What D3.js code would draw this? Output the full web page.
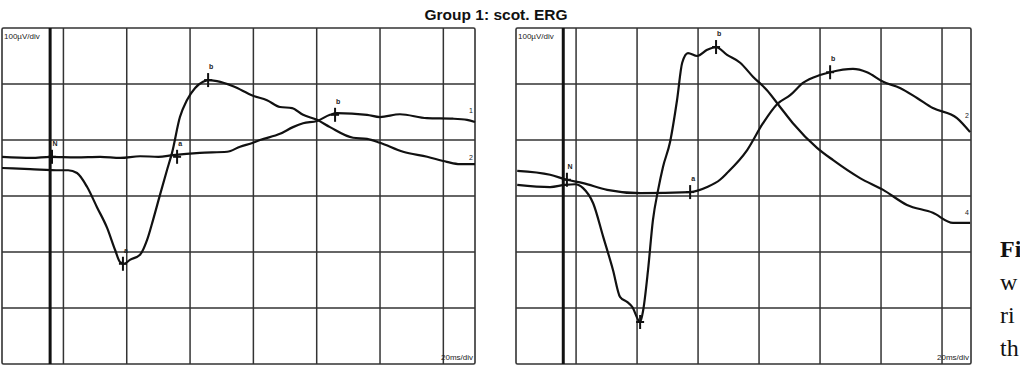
<!DOCTYPE html>
<html><head><meta charset="utf-8">
<script src="https://cdn.jsdelivr.net/npm/d3@7"></script>
<style>html,body{margin:0;padding:0;background:#fff;overflow:hidden}</style>
</head><body>
<svg id="c" width="1020" height="375"></svg>
<script>
// ---- data (time in ms, amplitude in µV) ----
const title = "Group 1: scot. ERG";
const yUnitLabel = "100µV/div";
const xUnitLabel = "20ms/div";
const gridTimes = [0, 20, 40, 60, 80, 100, 120];
const gridVolts = [-200, -100, 0, 100, 200];
const stimulusTime = -4.2;

// left panel, trace 2 (large a/b-wave)
const leftT2 = [-19.4,-10.5,-1.1,1.5,4.3,7.5,10.6,13.8,16.3,17.9,19.2,21.0,24.2,26.4,28.3,30.5,32.7,34.3,36.8,39.0,41.6,44.1,45.7,48.5,53.6,59.9,64.3,68.4,72.2,75.7,80.1,84.2,91.5,95.9,100.0,107.3,114.9,121.1,125.2,130.0];
const leftV2 = [50,48,46,46,41,16,-20,-57,-96,-118,-121,-114,-105,-79,-43,2,46,77,141,171,193,204,207,205,196,179,171,159,157,145,136,123,104,102,95,79,70,61,57,57];
// left panel, trace 1 (slow)
const leftT1 = [-19.4,-10,-4.2,4,11.6,18,24.2,30,34.6,43.1,51.7,55.8,59.9,62.1,68.4,72.5,75.7,80.1,84.2,86.4,95.9,100.0,106.3,114.8,123.0,127.5,130.0];
const leftV1 = [70,68,70,69,70,68,71,70,73,77,79,88,95,100,111,123,130,134,145,148,145,141,146,139,138,136,132];

// right panel, trace 4 (large a/b-wave)
const rightT4 = [-19.3,-8.5,-3.6,-0.3,2.3,5.6,8.9,12.1,14.4,16.7,18.4,21.0,22.0,23.6,25.2,26.9,28.5,30.8,33.1,34.8,36.7,39.7,43.0,45.9,49.5,53.8,58.0,62.6,66.9,71.1,79.0,84.3,93.1,100.7,108.5,117.0,123.6,129.2];
const rightV4 = [20,16,20,21,14,-13,-73,-132,-180,-189,-198,-225,-204,-132,-43,11,52,96,171,238,255,250,261,266,252,238,213,189,159,130,86,64,32,11,-16,-30,-48,-48];
// right panel, trace 2 (slow)
const rightT2 = [-19.3,-8.5,-3.0,2.3,10.2,21.0,37.4,43.0,47.2,49.5,56.1,61.3,65.9,70.2,74.4,80.0,83.3,90.8,95.4,100.7,106.2,111.8,117.0,124.9,129.2];
const rightV2 = [45,38,29,23,11,5,7,16,29,41,82,130,164,180,202,216,221,227,221,204,193,175,157,139,114];

// marker points [time, volt, label]
const leftMarkT = [-3.6, 35.9, 85.8, 18.8, 45.7];
const leftMarkV = [70, 70, 145, -121, 207];
const leftMarkL = ["N", "a", "b", "a", "b"];
const rightMarkT = [-3.0, 37.4, 83.3, 21.0, 45.9];
const rightMarkV = [29, 7, 221, -225, 266];
const rightMarkL = ["N", "a", "b", "", "b"];

const leftEndLabels = ["1", "2"];
const leftEndV = [148, 65];
const rightEndLabels = ["2", "4"];
const rightEndV = [140, -34];

const caption = ["Fi", "w", "ri", "th"];

// ---- drawing ----
const svg = d3.select("#c");
svg.append("text").attr("x", 496).attr("y", 20).attr("text-anchor", "middle")
  .attr("font-family", "Liberation Sans, Arial, sans-serif").attr("font-weight", "bold")
  .attr("font-size", 15.5).attr("fill", "#111").text(title);

const yScale = d3.scaleLinear().domain([-300, 300]).range([364, 28]);

function panel(xRange, tDomain, traces, markT, markV, markL, endLabels, endV) {
  const x = d3.scaleLinear().domain(tDomain).range(xRange);
  const y = yScale;
  const g = svg.append("g");
  g.append("rect").attr("x", xRange[0]).attr("y", 28)
    .attr("width", xRange[1] - xRange[0]).attr("height", 336)
    .attr("fill", "#fff").attr("stroke", "#333").attr("stroke-width", 1.6).attr("rx", 1.5);
  g.selectAll("line.v").data(gridTimes).join("line")
    .attr("x1", d => x(d)).attr("x2", d => x(d)).attr("y1", 28).attr("y2", 364)
    .attr("stroke", "#333").attr("stroke-width", 1.5);
  g.selectAll("line.h").data(gridVolts).join("line")
    .attr("y1", d => y(d)).attr("y2", d => y(d)).attr("x1", xRange[0]).attr("x2", xRange[1])
    .attr("stroke", "#333").attr("stroke-width", 1.5);
  g.append("line").attr("x1", x(stimulusTime)).attr("x2", x(stimulusTime))
    .attr("y1", 28).attr("y2", 364).attr("stroke", "#111").attr("stroke-width", 3);
  g.append("text").attr("x", xRange[0] + 2).attr("y", 39)
    .attr("font-family", "Liberation Sans, Arial, sans-serif").attr("font-size", 8)
    .attr("fill", "#222").text(yUnitLabel);
  g.append("text").attr("x", xRange[1] - 2).attr("y", 360).attr("text-anchor", "end")
    .attr("font-family", "Liberation Sans, Arial, sans-serif").attr("font-size", 8)
    .attr("fill", "#222").text(xUnitLabel);
  const line = d3.line().x(d => x(d[0])).y(d => y(d[1])).curve(d3.curveMonotoneX);
  traces.forEach(tr => {
    const pts = tr[0].map((t, i) => [t, tr[1][i]]);
    g.append("path").attr("d", line(pts)).attr("fill", "none")
      .attr("stroke", "#111").attr("stroke-width", 2.2).attr("stroke-linejoin", "round");
  });
  markT.forEach((t, i) => {
    const px = x(t), py = y(markV[i]);
    g.append("line").attr("x1", px).attr("x2", px).attr("y1", py - 7).attr("y2", py + 7)
      .attr("stroke", "#111").attr("stroke-width", 2);
    g.append("line").attr("x1", px - 4).attr("x2", px + 4).attr("y1", py).attr("y2", py)
      .attr("stroke", "#111").attr("stroke-width", 2);
    g.append("text").attr("x", px + 3).attr("y", py - 11).attr("text-anchor", "middle")
      .attr("font-family", "Liberation Sans, Arial, sans-serif").attr("font-size", 7)
      .attr("font-weight", "bold").attr("fill", "#222").text(markL[i]);
  });
  endLabels.forEach((l, i) => {
    g.append("text").attr("x", xRange[1] - 4).attr("y", y(endV[i]))
      .attr("text-anchor", "middle")
      .attr("font-family", "Liberation Sans, Arial, sans-serif").attr("font-size", 7)
      .attr("fill", "#222").text(l);
  });
}

panel([2, 475], [-19.4, 130], [[leftT2, leftV2], [leftT1, leftV1]],
  leftMarkT, leftMarkV, leftMarkL, leftEndLabels, leftEndV);
panel([516, 971], [-19.7, 129.5], [[rightT4, rightV4], [rightT2, rightV2]],
  rightMarkT, rightMarkV, rightMarkL, rightEndLabels, rightEndV);

svg.selectAll("text.cap").data(caption).join("text")
  .attr("x", 1000).attr("y", (d, i) => 257 + i * 33)
  .attr("font-family", "Liberation Serif, Times New Roman, serif")
  .attr("font-size", 24).attr("font-weight", (d, i) => i === 0 ? "bold" : "normal")
  .attr("fill", "#111").text(d => d);
</script>
</body></html>
